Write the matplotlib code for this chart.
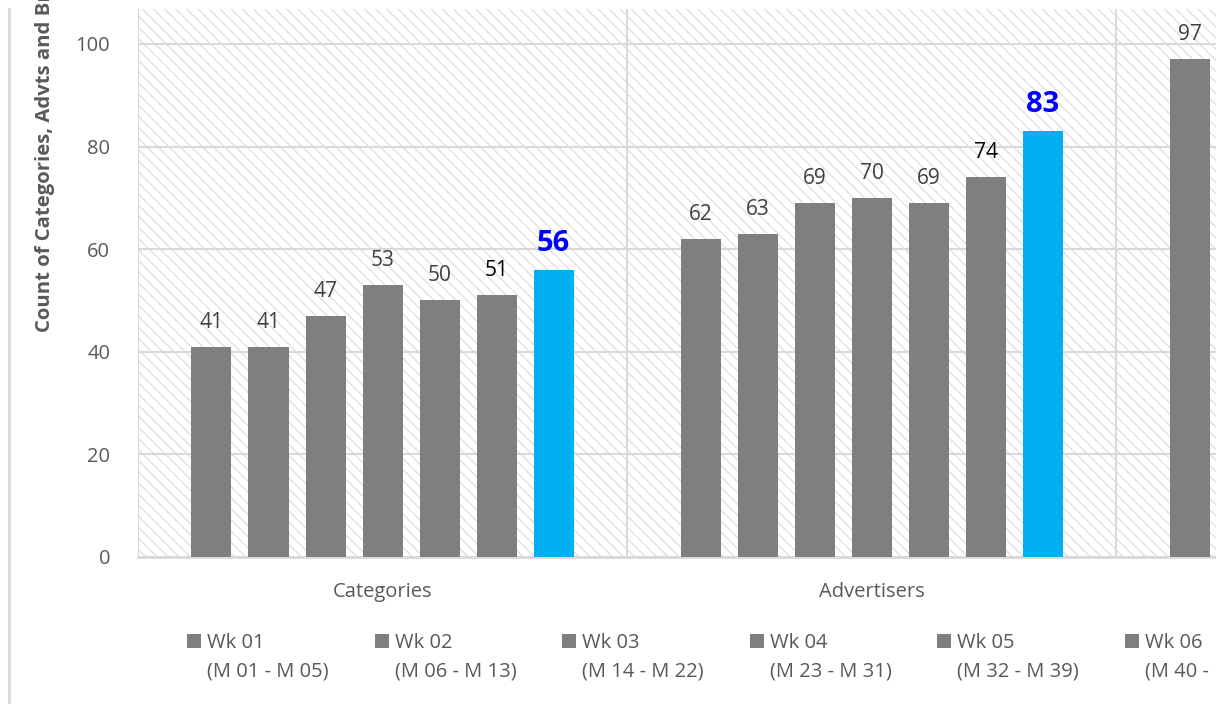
import numpy as np
import matplotlib.pyplot as plt
from matplotlib.patches import Rectangle
from matplotlib.lines import Line2D

# categorias (la tercera queda casi fuera del recorte)
categorias = ['Categories', 'Advertisers', 'Brands']
semanas = ['Wk 01', 'Wk 02', 'Wk 03', 'Wk 04', 'Wk 05', 'Wk 06', 'Wk 07']
rangos = ['(M 01 - M 05)', '(M 06 - M 13)', '(M 14 - M 22)', '(M 23 - M 31)',
          '(M 32 - M 39)', '(M 40 - M 47)', '(M 48 - M 55)']

# valores por semana: [Categories, Advertisers, Brands]; nan = fuera del recorte
wk01 = [41, 62, 97]
wk02 = [41, 63, np.nan]
wk03 = [47, 69, np.nan]
wk04 = [53, 70, np.nan]
wk05 = [50, 69, np.nan]
wk06 = [51, 74, np.nan]
wk07 = [56, 83, np.nan]
series = [wk01, wk02, wk03, wk04, wk05, wk06, wk07]

yticks = [0, 20, 40, 60, 80, 100]

GRIS = '#7f7f7f'
AZUL = '#00b0f0'
TXT = '#595959'
GRID = '#d9d9d9'
FONT = 'Open Sans'

plt.rcParams['font.family'] = [FONT, 'DejaVu Sans']
plt.rcParams['hatch.linewidth'] = 0.9

W, H = 1216, 704
fig = plt.figure(figsize=(W / 100, H / 100), dpi=100)

# el area de trazado sigue mas alla del borde derecho (imagen recortada)
x0, x1, ytop, ybot = 138, 138 + 3 * 489, 9, 557
ax = fig.add_axes([x0 / W, (H - ybot) / H, (x1 - x0) / W, (ybot - ytop) / H])

# fondo rayado (diagonal descendente, fina y clara)
ax.patch.set_facecolor('white')
ax.patch.set_edgecolor('#dedede')
ax.patch.set_linewidth(0)
ax.patch.set_hatch(chr(92) * 3)

x = np.arange(len(categorias))
paso = 57 / 489
ancho = 40 / 489
n = len(series)
for i, vals in enumerate(series):
    pos = x + (i - (n - 1) / 2) * paso
    color = AZUL if i == n - 1 else GRIS
    ax.bar(pos, vals, width=ancho, color=color, zorder=3)
    for p, v in zip(pos, vals):
        if np.isnan(v):
            continue
        if i == n - 1:
            ax.annotate(f'{v:g}', (p, v), xytext=(0, 12), textcoords='offset pixels',
                        ha='center', va='bottom', fontsize=21, fontweight='bold', color='#0000ff')
        else:
            c = 'black' if i == 5 else '#404040'
            ax.annotate(f'{v:g}', (p, v), xytext=(0, 14), textcoords='offset pixels',
                        ha='center', va='bottom', fontsize=15, color=c)

ax.set_xlim(-0.5, len(categorias) - 0.5)
ax.set_ylim(0, 100 * (ybot - ytop) / (ybot - 44))
ax.set_yticks(yticks)
ax.set_xticks(x)
ax.set_xticklabels(categorias)
ax.set_xticks(np.arange(-0.5, len(categorias)), minor=True)

ax.grid(axis='y', which='major', color=GRID, linewidth=1.5, zorder=1)
ax.grid(axis='x', which='minor', color=GRID, linewidth=1.5, zorder=1)
ax.grid(axis='x', which='major', visible=False)
ax.set_axisbelow(True)

for s in ['top', 'right', 'left']:
    ax.spines[s].set_visible(False)
ax.spines['bottom'].set_color(GRID)
ax.spines['bottom'].set_linewidth(2)

ax.tick_params(axis='both', which='both', length=0, colors=TXT, labelsize=14.5)
ax.tick_params(axis='y', pad=20)
ax.tick_params(axis='x', pad=18)

# titulo del eje y (cortado arriba en el original)
fig.text(45 / W, (H - 332) / H, 'Count of Categories, Advts and Brands', rotation=90,
         ha='center', va='bottom', fontsize=14.6, fontweight='bold', color=TXT)

# leyenda manual: cuadro alineado con la primera linea
for i, (sem, rg) in enumerate(zip(semanas, rangos)):
    lx = 187 + i * 187.6
    color = AZUL if i == n - 1 else GRIS
    fig.patches.append(Rectangle((lx / W, (H - 648) / H), 14 / W, 14 / H,
                                 transform=fig.transFigure, facecolor=color, edgecolor='none'))
    fig.text((lx + 20) / W, (H - 648) / H, sem, ha='left', va='baseline', fontsize=14.5, color=TXT)
    fig.text((lx + 20) / W, (H - 677) / H, rg, ha='left', va='baseline', fontsize=14.5, color=TXT)

# borde izquierdo del area del grafico
fig.add_artist(Line2D([8.5 / W, 8.5 / W], [0, (H - 9) / H], transform=fig.transFigure,
                      color=GRID, linewidth=2))

fig.savefig('out.png', dpi=100)
